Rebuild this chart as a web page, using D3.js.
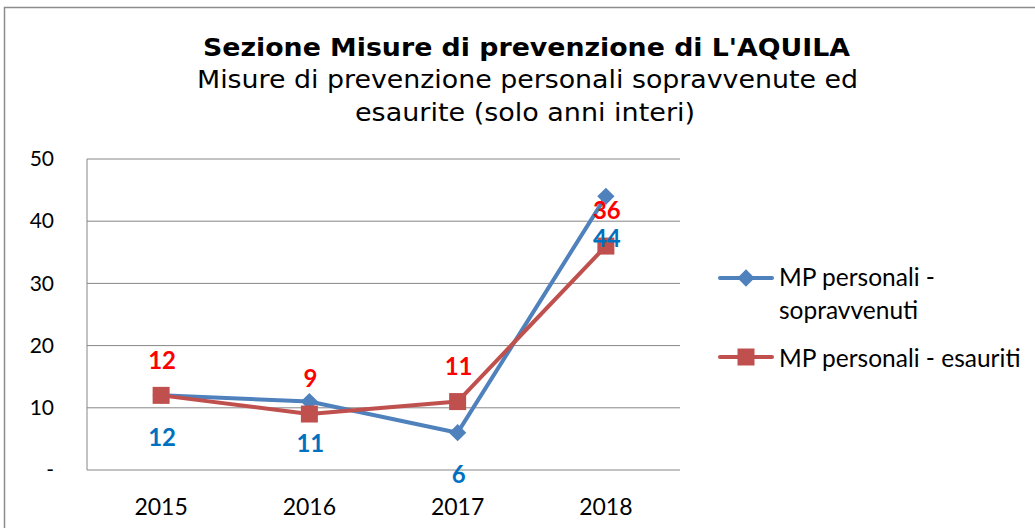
<!DOCTYPE html>
<html><head><meta charset="utf-8">
<script src="https://cdn.jsdelivr.net/npm/d3@7"></script>
<style>body{margin:0;background:#fff}</style>
</head><body>
<svg id="c" width="1035" height="528"></svg>
<script>
const years = ["2015","2016","2017","2018"];
const sopravvenuti = [12, 11, 6, 44];
const esauriti = [12, 9, 11, 36];
const yTicks = [0, 10, 20, 30, 40, 50];
const seriesNames = ["MP personali - sopravvenuti", "MP personali - esauriti"];

const svg = d3.select("#c");
const W = 1035, H = 528;
const m = {l: 87, r: 680, t: 159, b: 470};
const lineFont = "Lato, 'Open Sans', sans-serif";
const titleFont = "'DejaVu Sans', Verdana, sans-serif";

svg.append("rect").attr("x",4.5).attr("y",7.5).attr("width",W+10).attr("height",H+10)
  .attr("fill","#fff").attr("stroke","#8c8c8c").attr("stroke-width",1.5);

const x = d3.scaleBand().domain(years).range([m.l, m.r]);
const y = d3.scaleLinear().domain([0, 50]).range([m.b, m.t]);

// titles
svg.append("text").attr("x",526.5).attr("y",56).attr("text-anchor","middle")
  .attr("font-family",titleFont).attr("font-weight","bold")
  .attr("font-size",24).attr("textLength",647).attr("lengthAdjust","spacingAndGlyphs")
  .attr("fill","#000").text("Sezione Misure di prevenzione di L'AQUILA");
svg.append("text").attr("x",527.5).attr("y",88).attr("text-anchor","middle")
  .attr("font-family",titleFont)
  .attr("font-size",24).attr("textLength",661).attr("lengthAdjust","spacingAndGlyphs")
  .attr("fill","#000").text("Misure di prevenzione personali sopravvenute ed");
svg.append("text").attr("x",525).attr("y",121).attr("text-anchor","middle")
  .attr("font-family",titleFont)
  .attr("font-size",24).attr("textLength",340).attr("lengthAdjust","spacingAndGlyphs")
  .attr("fill","#000").text("esaurite (solo anni interi)");

// gridlines
svg.append("g").selectAll("line").data(yTicks).join("line")
  .attr("x1",m.l).attr("x2",m.r).attr("y1",d=>y(d)).attr("y2",d=>y(d))
  .attr("stroke","#868686").attr("stroke-width",1);
svg.append("line").attr("x1",m.l).attr("x2",m.l).attr("y1",m.t).attr("y2",m.b)
  .attr("stroke","#868686").attr("stroke-width",1);

// y axis labels
const yAxis = d3.axisLeft(y).tickValues(yTicks).tickSize(0).tickPadding(33)
  .tickFormat(d => d === 0 ? "-" : d);
const ya = svg.append("g").attr("transform",`translate(${m.l},0)`).call(yAxis);
ya.select(".domain").remove();
ya.selectAll("text").attr("font-family",lineFont).attr("font-size",21).attr("fill","#000");

// x axis labels
const xAxis = d3.axisBottom(x).tickSize(0).tickPadding(29);
const xa = svg.append("g").attr("transform",`translate(0,${m.b})`).call(xAxis);
xa.select(".domain").remove();
xa.selectAll("text").attr("font-family",lineFont).attr("font-size",23).attr("fill","#000");

const cx = d => x(d) + x.bandwidth()/2;
const line = d3.line().x((d,i)=>cx(years[i])).y(d=>y(d));

const blue = "#4F81BD", red = "#C0504D";

svg.append("path").datum(sopravvenuti).attr("d",line).attr("fill","none")
  .attr("stroke",blue).attr("stroke-width",4).attr("stroke-linejoin","round");
const diamond = d3.symbol().type(d3.symbolDiamond2).size(190);
svg.append("g").selectAll("path").data(sopravvenuti).join("path")
  .attr("d",diamond).attr("transform",(d,i)=>`translate(${cx(years[i])},${y(d)})`)
  .attr("fill",blue);

svg.append("path").datum(esauriti).attr("d",line).attr("fill","none")
  .attr("stroke",red).attr("stroke-width",4).attr("stroke-linejoin","round");
svg.append("g").selectAll("rect").data(esauriti).join("rect")
  .attr("x",(d,i)=>cx(years[i])-8.5).attr("y",d=>y(d)-8.5).attr("width",17).attr("height",17)
  .attr("fill",red);

// data labels
svg.append("g").selectAll("text").data(sopravvenuti).join("text")
  .attr("x",(d,i)=>cx(years[i])+1).attr("y",d=>y(d)+42).attr("dy","0.35em")
  .attr("text-anchor","middle").attr("font-family",lineFont).attr("font-weight","bold")
  .attr("font-size",24).attr("fill","#0070C0").text(d=>d);
svg.append("g").selectAll("text").data(esauriti).join("text")
  .attr("x",(d,i)=>cx(years[i])+1).attr("y",d=>y(d)-35).attr("dy","0.35em")
  .attr("text-anchor","middle").attr("font-family",lineFont).attr("font-weight","bold")
  .attr("font-size",24).attr("fill","#FF0000").text(d=>d);

// legend
const lg = svg.append("g");
const legFs = 24.5;
lg.append("line").attr("x1",720).attr("x2",772).attr("y1",278).attr("y2",278)
  .attr("stroke",blue).attr("stroke-width",4).attr("stroke-linecap","round");
lg.append("path").attr("d",diamond).attr("transform","translate(746,278)").attr("fill",blue);
lg.append("text").attr("x",779).attr("y",286).attr("font-family",lineFont).attr("font-size",legFs)
  .attr("fill","#000").text("MP personali -");
lg.append("text").attr("x",779).attr("y",319).attr("font-family",lineFont).attr("font-size",legFs)
  .attr("fill","#000").text("sopravvenuti");
lg.append("line").attr("x1",720).attr("x2",772).attr("y1",357).attr("y2",357)
  .attr("stroke",red).attr("stroke-width",4).attr("stroke-linecap","round");
lg.append("rect").attr("x",737.5).attr("y",348.5).attr("width",17).attr("height",17).attr("fill",red);
lg.append("text").attr("x",779).attr("y",367).attr("font-family",lineFont).attr("font-size",legFs)
  .attr("fill","#000").text(seriesNames[1]);
</script>
</body></html>
